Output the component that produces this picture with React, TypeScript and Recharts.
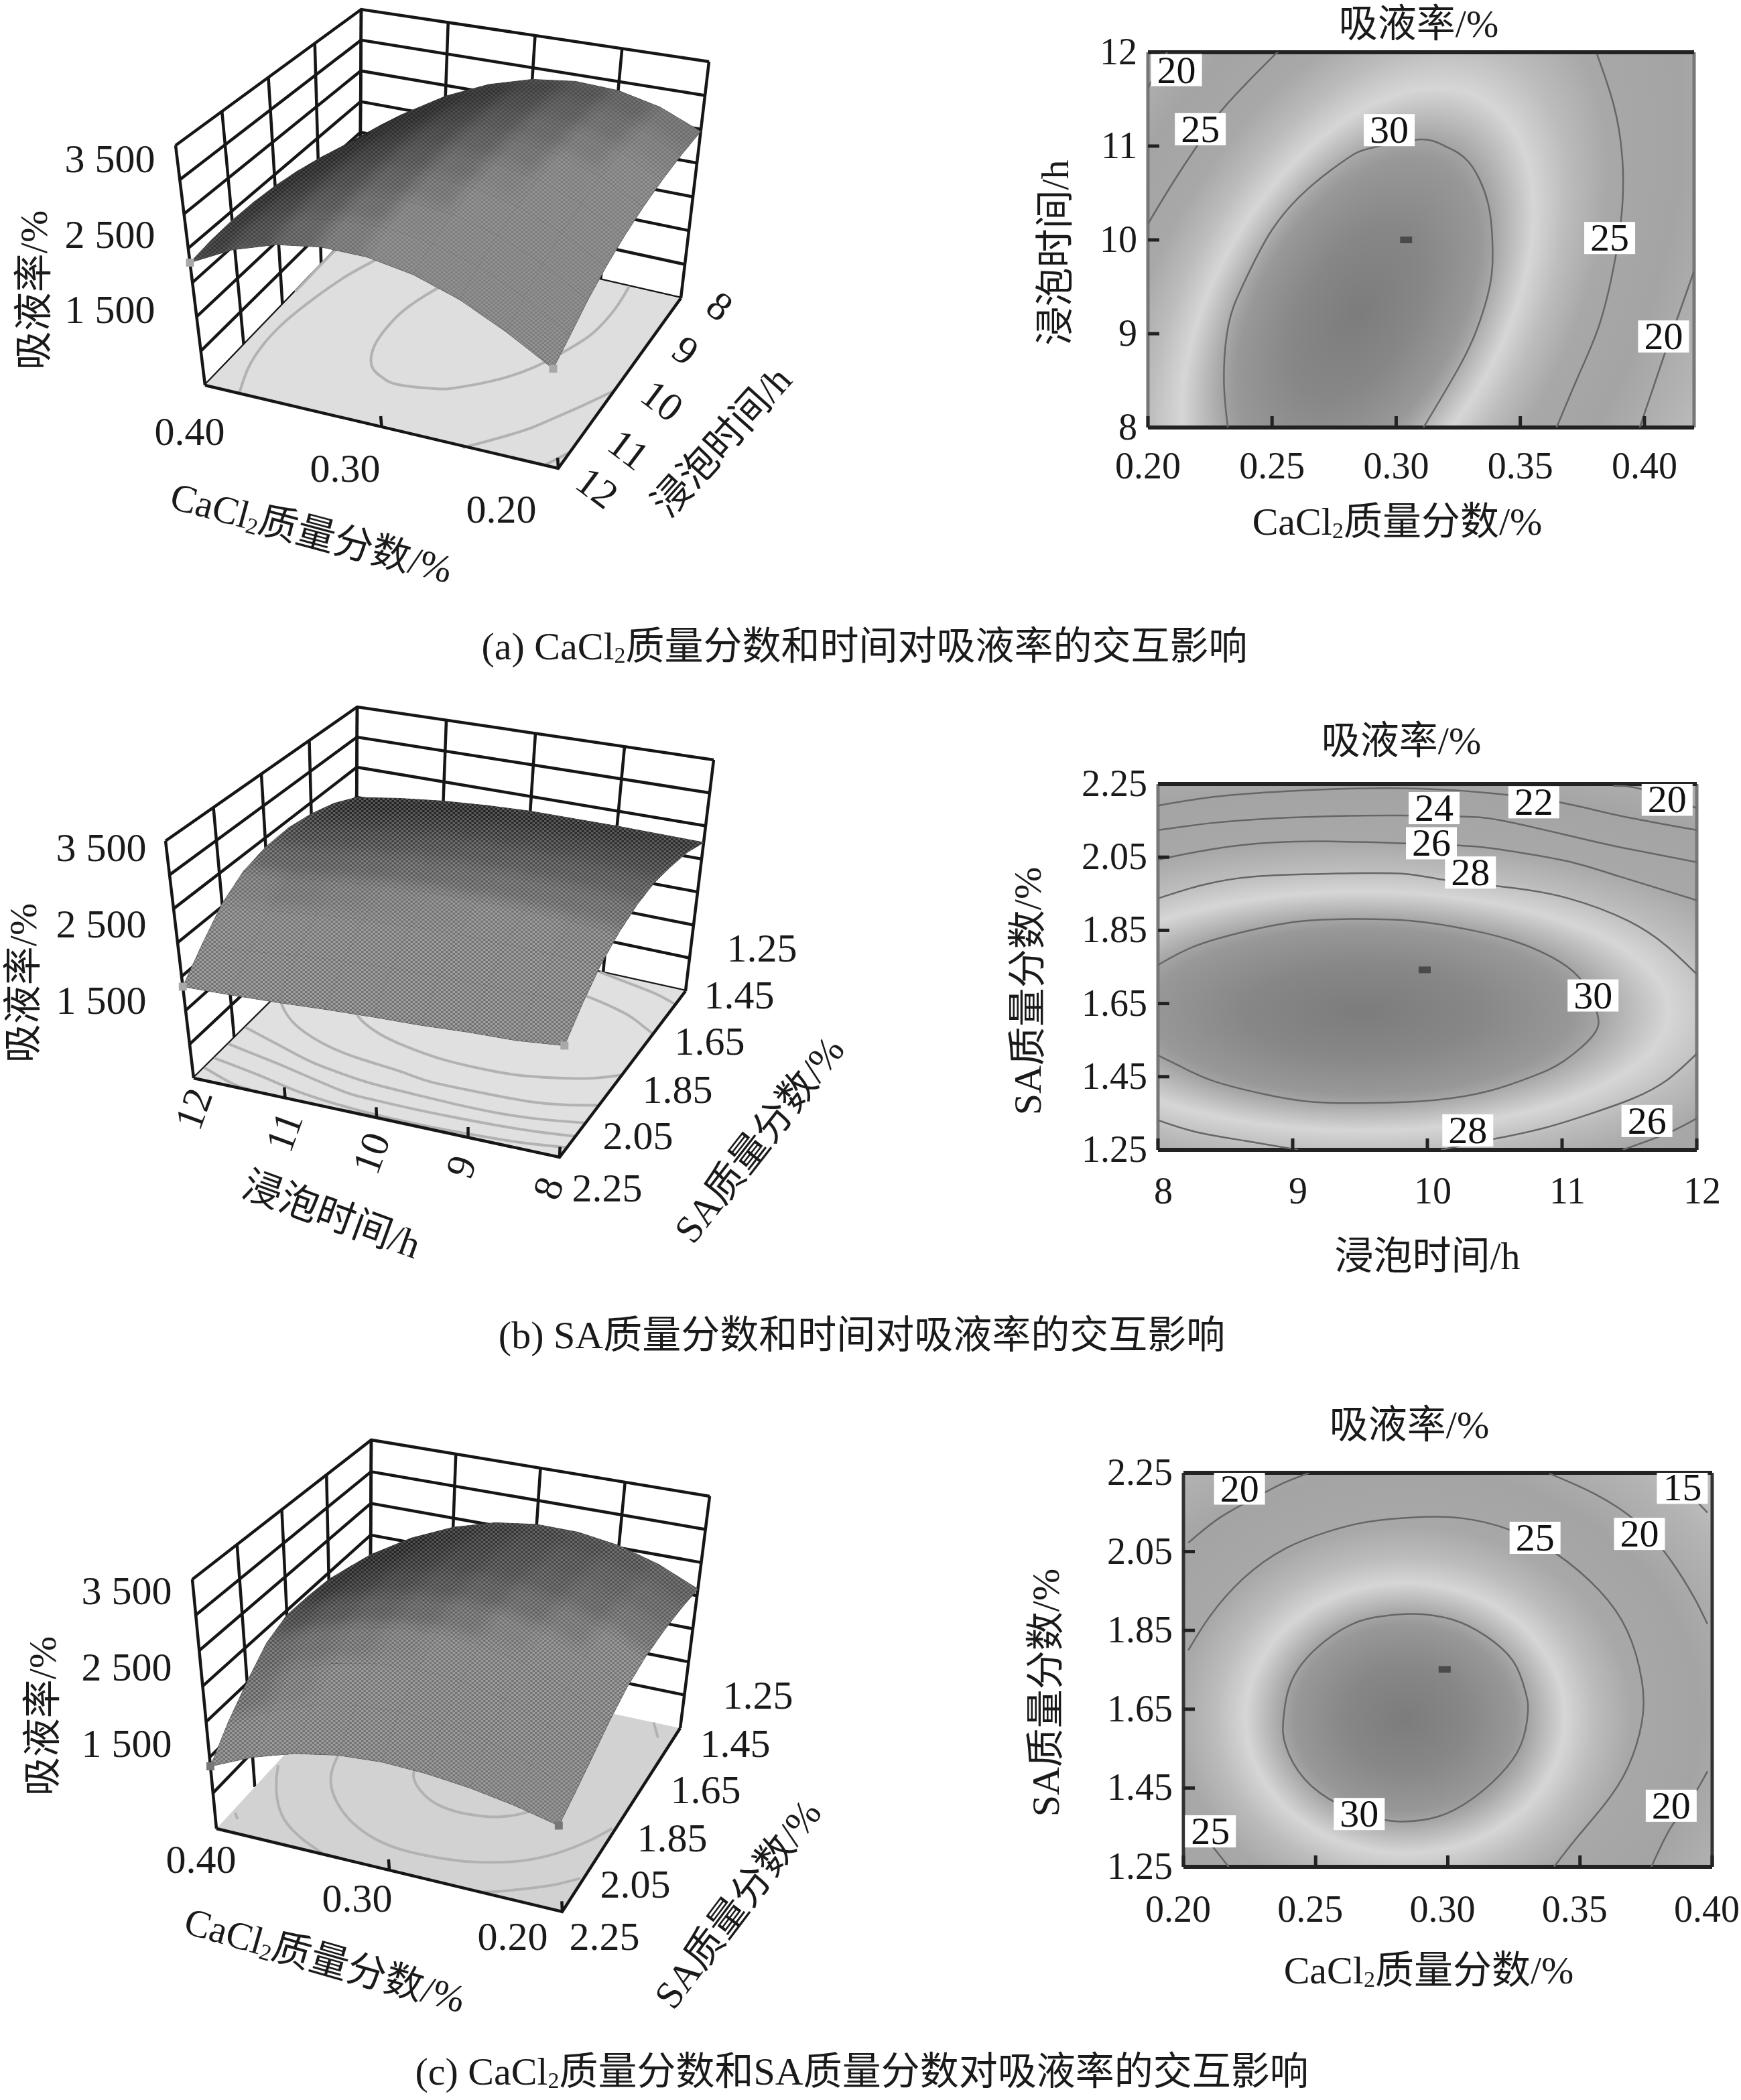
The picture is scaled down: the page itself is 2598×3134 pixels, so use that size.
import { ScatterChart, Scatter, XAxis, YAxis, ReferenceArea, ReferenceLine } from "recharts";

const FONT = "'Liberation Serif','Noto Sans CJK SC',serif";

// shared axis ticks
const CACL_TICKS = [0.2, 0.25, 0.3, 0.35, 0.4];
const TIME_TICKS = [8, 9, 10, 11, 12];
const SA_TICKS = [1.25, 1.45, 1.65, 1.85, 2.05, 2.25];
const Z_LEVELS = [500, 1000, 1500, 2000, 2500, 3000, 3500, 4000];
const GRID_FRACS = [0, 0.25, 0.5, 0.75, 1];

// surface grids
const GRID_CACL = [0.2, 0.225, 0.25, 0.275, 0.3, 0.325, 0.35, 0.375, 0.4];
const GRID_TIME = [8, 8.5, 9, 9.5, 10, 10.5, 11, 11.5, 12];
const GRID_SA = [1.25, 1.375, 1.5, 1.625, 1.75, 1.875, 2, 2.125, 2.25];

// panel a: rows = time, cols = CaCl2
const A_Z = [
  [2967, 3222, 3365, 3398, 3320, 3130, 2830, 2420, 1898],
  [2939, 3217, 3382, 3438, 3382, 3214, 2937, 2549, 2050],
  [2882, 3182, 3370, 3448, 3415, 3270, 3015, 2650, 2173],
  [2795, 3117, 3328, 3428, 3418, 3296, 3063, 2721, 2266],
  [2679, 3024, 3257, 3380, 3392, 3292, 3082, 2762, 2330],
  [2533, 2900, 3156, 3301, 3336, 3259, 3071, 2774, 2364],
  [2358, 2748, 3026, 3194, 3251, 3196, 3031, 2756, 2369],
  [2153, 2565, 2866, 3056, 3136, 3104, 2961, 2709, 2344],
  [1970, 2354, 2677, 2890, 2992, 2982, 2862, 2632, 2290],
];
// panel b: rows = time, cols = SA
const B_Z = [
  [2750, 2920, 3020, 3085, 3060, 2960, 2790, 2520, 2200],
  [2760, 2950, 3070, 3130, 3105, 3000, 2800, 2500, 2120],
  [2770, 2970, 3100, 3160, 3135, 3025, 2815, 2490, 2090],
  [2770, 2980, 3110, 3170, 3140, 3030, 2815, 2480, 2040],
  [2770, 2970, 3100, 3155, 3125, 3010, 2790, 2450, 2010],
  [2740, 2930, 3060, 3115, 3085, 2965, 2745, 2405, 1970],
  [2690, 2870, 2995, 3050, 3015, 2895, 2675, 2340, 1920],
  [2610, 2790, 2905, 2960, 2925, 2800, 2580, 2250, 1880],
  [2500, 2700, 2820, 2880, 2860, 2760, 2540, 2200, 1850],
];
// panel c: rows = SA, cols = CaCl2
const C_Z = [
  [2600, 2858, 3033, 3125, 3132, 3044, 2857, 2573, 2190],
  [2640, 2908, 3089, 3184, 3193, 3109, 2932, 2663, 2300],
  [2640, 2922, 3113, 3214, 3223, 3146, 2983, 2734, 2400],
  [2600, 2906, 3114, 3222, 3233, 3158, 2999, 2756, 2430],
  [2500, 2830, 3054, 3171, 3184, 3114, 2965, 2739, 2435],
  [2330, 2679, 2916, 3040, 3054, 2983, 2834, 2606, 2300],
  [2130, 2465, 2692, 2811, 2823, 2748, 2589, 2346, 2020],
  [1950, 2218, 2399, 2494, 2503, 2430, 2275, 2038, 1720],
  [1800, 1934, 2025, 2072, 2074, 2009, 1870, 1659, 1375],
];

// contour lines, [x, y] in axis units
const A_C30 = [[0.2322, 8], [0.2306, 8.52], [0.2325, 9.1], [0.2383, 9.52], [0.2498, 10.1], [0.2651, 10.56], [0.2804, 10.87], [0.29, 10.98], [0.3091, 11.07], [0.3196, 11], [0.3292, 10.83], [0.3369, 10.4], [0.3388, 9.94], [0.3378, 9.52], [0.3321, 9.02], [0.3244, 8.6], [0.311, 8]];
const A_C25L = [[0.2, 10.17], [0.2115, 10.67], [0.223, 11.13], [0.2316, 11.44], [0.2498, 11.94], [0.2526, 12]];
const A_C25R = [[0.3809, 11.98], [0.3876, 11.44], [0.391, 10.9], [0.391, 10.33], [0.3876, 9.71], [0.3819, 9.1], [0.3742, 8.6], [0.3646, 8]];
const A_C20L = [[0.2, 11.62], [0.2077, 12]];
const A_C20R = [[0.42, 9.67], [0.4144, 9.25], [0.4077, 8.75], [0.3981, 8]];
const A_LINES = [A_C30, A_C25L, A_C25R, A_C20L, A_C20R];
const A_LABELS = [["20", 0.2115, 11.81], ["25", 0.2211, 11.18], ["30", 0.2972, 11.17], ["25", 0.386, 10.02], ["20", 0.4077, 8.97]];
const A_PEAK = [[0.304, 10]];

const B_C30 = [[8, 1.755], [8.27, 1.806], [8.64, 1.846], [9.04, 1.874], [9.44, 1.881], [9.88, 1.876], [10.32, 1.851], [10.68, 1.816], [10.98, 1.765], [11.16, 1.705], [11.26, 1.624], [11.23, 1.563], [11.01, 1.492], [10.79, 1.452], [10.47, 1.412], [10.06, 1.386], [9.59, 1.378], [9.15, 1.381], [8.79, 1.402], [8.42, 1.437], [8.2, 1.472], [8, 1.508]];
const B_C28U = [[8, 1.937], [8.31, 1.972], [8.71, 1.997], [9.3, 2.005], [9.81, 2.005], [10.14, 1.987], [10.61, 1.967], [11.05, 1.937], [11.49, 1.876], [11.78, 1.806], [12, 1.73]];
const B_C28L = [[8, 1.331], [8.27, 1.3], [8.64, 1.275], [9.04, 1.25]];
const B_C28R = [[10.1, 1.25], [10.5, 1.28], [10.87, 1.31], [11.23, 1.351], [11.53, 1.391], [11.78, 1.441], [12, 1.513]];
const B_C26U = [[8, 2.043], [8.42, 2.073], [8.86, 2.09], [9.3, 2.093], [9.81, 2.088], [10.32, 2.08], [10.68, 2.063], [11.05, 2.038], [11.42, 1.998], [12, 1.932]];
const B_C26R = [[11.45, 1.25], [11.78, 1.295], [12, 1.336]];
const B_C24 = [[8, 2.124], [8.42, 2.144], [8.86, 2.156], [9.3, 2.162], [9.81, 2.164], [10.25, 2.161], [10.54, 2.151], [11.05, 2.109], [11.42, 2.078], [12, 2.036]];
const B_C22 = [[8, 2.191], [8.42, 2.215], [8.86, 2.228], [9.41, 2.237], [9.95, 2.237], [10.47, 2.225], [10.98, 2.2], [11.42, 2.164], [12, 2.124]];
const B_C20 = [[11.38, 2.245], [11.6, 2.235], [12, 2.184]];
const B_LINES = [B_C30, B_C28U, B_C28L, B_C28R, B_C26U, B_C26R, B_C24, B_C22, B_C20];
const B_LABELS = [["24", 10.05, 2.184], ["22", 10.79, 2.2], ["20", 11.78, 2.207], ["26", 10.03, 2.088], ["28", 10.32, 2.008], ["30", 11.23, 1.672], ["28", 10.3, 1.303], ["26", 11.63, 1.329]];
const B_PEAK = [[9.98, 1.742]];

const C_C30 = [[0.2377, 1.617], [0.2404, 1.713], [0.2494, 1.799], [0.2638, 1.866], [0.2764, 1.887], [0.2872, 1.892], [0.3015, 1.878], [0.3141, 1.837], [0.3249, 1.77], [0.3294, 1.693], [0.3303, 1.645], [0.3276, 1.559], [0.3195, 1.482], [0.3087, 1.42], [0.2961, 1.377], [0.2818, 1.365], [0.271, 1.377], [0.2584, 1.41], [0.2458, 1.473], [0.2386, 1.559], [0.2377, 1.617]];
const C_C25 = [[0.2018, 1.799], [0.2099, 1.885], [0.2225, 1.981], [0.2386, 2.058], [0.2548, 2.101], [0.2692, 2.125], [0.2872, 2.137], [0.3051, 2.135], [0.3231, 2.106], [0.3411, 2.044], [0.3572, 1.952], [0.368, 1.847], [0.3734, 1.722], [0.3734, 1.617], [0.368, 1.501], [0.359, 1.406], [0.3482, 1.319], [0.3402, 1.25]];
const C_C25B = [[0.209, 1.319], [0.2171, 1.25]];
const C_C20A = [[0.2018, 2.072], [0.2135, 2.135], [0.2261, 2.183], [0.2368, 2.221], [0.2476, 2.25]];
const C_C20B = [[0.3384, 2.248], [0.3554, 2.197], [0.3716, 2.125], [0.3842, 2.029], [0.3932, 1.933], [0.3982, 1.866]];
const C_C20C = [[0.3982, 1.492], [0.3914, 1.415], [0.3842, 1.348], [0.377, 1.25]];
const C_C15 = [[0.3941, 2.178], [0.3982, 2.149]];
const C_LINES = [C_C30, C_C25, C_C25B, C_C20A, C_C20B, C_C20C, C_C15];
const C_LABELS = [["20", 0.2212, 2.21], ["15", 0.3887, 2.212], ["25", 0.333, 2.085], ["20", 0.3725, 2.095], ["30", 0.2665, 1.384], ["25", 0.2102, 1.34], ["20", 0.3845, 1.405]];
const C_PEAK = [[0.2988, 1.751]];

type Pt = { x: number; y: number };
const toPts = (a: number[][]): Pt[] => a.map(([x, y]) => ({ x, y }));

// ---------- 3D surface ----------
type Cage = Record<"l" | "f" | "r" | "b" | "lt" | "ft" | "rt" | "bt", number[]>;

function project(c: Cage, u: number, v: number, w: number): Pt {
  const bil = (a: number[], b: number[], d: number[], e: number[], i: number) =>
    (1 - v) * ((1 - u) * a[i] + u * b[i]) + v * ((1 - u) * e[i] + u * d[i]);
  const lo = [bil(c.l, c.f, c.r, c.b, 0), bil(c.l, c.f, c.r, c.b, 1)];
  const hi = [bil(c.lt, c.ft, c.rt, c.bt, 0), bil(c.lt, c.ft, c.rt, c.bt, 1)];
  return { x: lo[0] + (hi[0] - lo[0]) * w, y: lo[1] + (hi[1] - lo[1]) * w };
}

const zToW = (z: number) => (z - Z_LEVELS[0]) / (Z_LEVELS[Z_LEVELS.length - 1] - Z_LEVELS[0]);
const NoDot = () => <g />;

function quadPath(q: Pt[], ox: number, oy: number) {
  return "M" + q.map((p) => `${p.x + ox},${p.y + oy}`).join("L") + "Z";
}

function buildCells(cage: Cage, rows: number[], cols: number[], z: number[][], uv: (r: number, c: number) => number[]) {
  const P = (i: number, j: number) => {
    const [u, v] = uv(rows[i], cols[j]);
    return project(cage, u, v, zToW(z[i][j]));
  };
  const cells: { q: Pt[]; depth: number; area: number }[] = [];
  for (let i = 0; i < rows.length - 1; i++) {
    for (let j = 0; j < cols.length - 1; j++) {
      const q = [P(i, j), P(i, j + 1), P(i + 1, j + 1), P(i + 1, j)];
      const [u, v] = uv((rows[i] + rows[i + 1]) / 2, (cols[j] + cols[j + 1]) / 2);
      let area = 0;
      q.forEach((p, k) => {
        const n = q[(k + 1) % 4];
        area += p.x * n.y - n.x * p.y;
      });
      cells.push({ q, depth: v - u, area: Math.abs(area) / 2 });
    }
  }
  cells.sort((a, b) => b.depth - a.depth);
  const max = Math.max(...cells.map((c) => c.area));
  return cells.map((c) => {
    const r = Math.min(1, c.area / max / 0.72);
    const g = Math.round(14 + 122 * Math.pow(r, 1.25));
    return { ...c, fill: `rgb(${g},${g},${g})` };
  });
}

function Surface3D(props: {
  id: string; top: number; cage: Cage; rows: number[]; cols: number[]; z: number[][];
  uv: (r: number, c: number) => number[]; lines: number[][][]; contourUv: (x: number, y: number) => number[];
  floorTicks: number[]; floorFill: string; backFloorLine: boolean; tipFill: string; mesh: number;
}) {
  const { id, top, cage, rows, cols, z, uv, lines, contourUv, floorTicks, floorFill, backFloorLine, tipFill, mesh } = props;
  const W = 1300;
  const H = 950;
  const cells = buildCells(cage, rows, cols, z, uv);
  const anchor = cells[0].q[0];
  const floor = [project(cage, 0, 0, 0), project(cage, 1, 0, 0), project(cage, 1, 1, 0), project(cage, 0, 1, 0)];

  const wallLines: Pt[][] = [];
  Z_LEVELS.forEach((lv) => {
    const w = zToW(lv);
    if (w === 0 && !backFloorLine) return;
    wallLines.push([project(cage, 0, 0, w), project(cage, 0, 1, w), project(cage, 1, 1, w)]);
  });
  GRID_FRACS.forEach((f) => {
    wallLines.push([project(cage, 0, f, 0), project(cage, 0, f, 1)]);
    wallLines.push([project(cage, f, 1, 0), project(cage, f, 1, 1)]);
  });
  const frontLines: Pt[][] = [[project(cage, 0, 0, 0), project(cage, 1, 0, 0), project(cage, 1, 1, 0)]];
  floorTicks.forEach((f) => frontLines.push([project(cage, f, 0, 0), project(cage, f, 0, 0.045)]));
  frontLines.push([project(cage, 1, 0, 0), project(cage, 1, 0, 0.045)]);

  const floorCurves = lines.map((l) =>
    l.map(([x, y]) => {
      const [u, v] = contourUv(x, y);
      return project(cage, Math.min(1, Math.max(0, u)), Math.min(1, Math.max(0, v)), 0);
    })
  );
  const last = rows.length - 1;
  const lastC = cols.length - 1;
  // grey design-point marks at the near corners of the surface
  const tips = [[last, lastC], [last, 0], [0, 0], [0, lastC]]
    .map(([i, j]) => {
      const [u, v] = uv(rows[i], cols[j]);
      return { u, v, p: project(cage, u, v, zToW(z[i][j])) };
    })
    .filter((t) => t.v < 0.5)
    .map((t) => t.p);

  const FloorShape = (p: any) => {
    const ox = p.cx - floor[0].x;
    const oy = p.cy - floor[0].y;
    return <path d={quadPath(floor, ox, oy)} fill={floorFill} />;
  };
  const SurfaceShape = (p: any) => {
    const ox = p.cx - anchor.x;
    const oy = p.cy - anchor.y;
    const all = cells.map((c) => quadPath(c.q, ox, oy)).join(" ");
    return (
      <g>
        <defs>
          <clipPath id={`clip-${id}`}>
            {cells.map((c, i) => <path key={i} d={quadPath(c.q, ox, oy)} />)}
          </clipPath>
          <pattern id={`mesh-${id}`} width={7} height={6} patternUnits="userSpaceOnUse">
            <rect x={0} y={0} width={3.5} height={3} fill="#fff" fillOpacity={mesh} />
            <rect x={3.5} y={3} width={3.5} height={3} fill="#fff" fillOpacity={mesh} />
            <rect x={3.5} y={0} width={3.5} height={3} fill="#000" fillOpacity={mesh * 0.8} />
            <rect x={0} y={3} width={3.5} height={3} fill="#000" fillOpacity={mesh * 0.8} />
          </pattern>
        </defs>
        <path d={all} fill="#777" stroke="#444" strokeWidth={1} />
        <g clipPath={`url(#clip-${id})`} style={{ filter: "blur(9px)" }}>
          {cells.map((c, i) => (
            <path key={i} d={quadPath(c.q, ox, oy)} fill={c.fill} stroke={c.fill} strokeWidth={16} strokeLinejoin="round" />
          ))}
        </g>
        <path d={all} fill={`url(#mesh-${id})`} />
      </g>
    );
  };
  const TipShape = (p: any) => <rect x={p.cx - 6} y={p.cy - 6} width={12} height={12} fill={tipFill} />;

  return (
    <div style={{ position: "absolute", left: 0, top }}>
      <ScatterChart width={W} height={H} margin={{ top: 0, right: 0, bottom: 0, left: 0 }}>
        <XAxis hide type="number" dataKey="x" domain={[0, W]} />
        <YAxis hide reversed type="number" dataKey="y" domain={[top, top + H]} />
        {wallLines.map((l, i) => (
          <Scatter key={`w${i}`} data={l} shape={NoDot} line={{ stroke: "#161616", strokeWidth: 4.5 }} isAnimationActive={false} />
        ))}
        <Scatter data={[floor[0]]} shape={FloorShape} isAnimationActive={false} />
        {floorCurves.map((l, i) => (
          <Scatter key={`f${i}`} data={l} shape={NoDot} lineJointType="natural" line={{ stroke: "#b2b2b2", strokeWidth: 4 }} isAnimationActive={false} />
        ))}
        {frontLines.map((l, i) => (
          <Scatter key={`e${i}`} data={l} shape={NoDot} line={{ stroke: "#161616", strokeWidth: 4.5 }} isAnimationActive={false} />
        ))}
        <Scatter data={[anchor]} shape={SurfaceShape} isAnimationActive={false} />
        <Scatter data={tips} shape={TipShape} isAnimationActive={false} />
      </ScatterChart>
    </div>
  );
}

// ---------- 2D contour ----------
const RAMP: [number, string][] = [
  [0, "#7c7c7c"], [0.5, "#878787"], [0.9, "#989898"], [1, "#a4a4a4"], [1.3, "#d6d6d6"],
  [1.55, "#bcbcbc"], [1.85, "#a8a8a8"], [2.4, "#a4a4a4"], [3, "#b4b4b4"], [3.6, "#cccccc"],
];

function Contour(props: {
  id: string; left: number; top: number; width: number; height: number;
  xDomain: number[]; yDomain: number[]; xTicks: number[]; yTicks: number[];
  xDigits: number; yDigits: number; lines: number[][][]; labels: (string | number)[][]; peak: number[][];
  glow: number[]; tickDx: number; tickDy: number; sideStroke: string;
}) {
  const { id, left, top, width, height, xDomain, yDomain, xTicks, yTicks, xDigits, yDigits, lines, labels, peak, glow, tickDx, tickDy, sideStroke } = props;
  const m = 130;
  const [cx, cy, ax, bx, by] = glow;
  const XTick = (p: any) => (
    <g>
      <line x1={p.x} x2={p.x} y1={p.y} y2={p.y - 17} stroke="#222" strokeWidth={5} />
      <text x={p.x + tickDx} y={p.y + tickDy} textAnchor="middle" fontSize={56} fontFamily={FONT} fill="#1a1a1a">
        {Number(p.payload.value).toFixed(xDigits)}
      </text>
    </g>
  );
  const YTick = (p: any) => (
    <g>
      <line x1={p.x} x2={p.x + 17} y1={p.y} y2={p.y} stroke="#222" strokeWidth={5} />
      <text x={p.x - 16} y={p.y + 18} textAnchor="end" fontSize={56} fontFamily={FONT} fill="#1a1a1a">
        {Number(p.payload.value).toFixed(yDigits)}
      </text>
    </g>
  );
  const LabelBox = (p: any) => (
    <g>
      <rect x={p.cx - 38} y={p.cy - 24} width={76} height={48} fill="#fff" />
      <text x={p.cx} y={p.cy + 19} textAnchor="middle" fontSize={58} fontFamily={FONT} fill="#111">{p.payload.label}</text>
    </g>
  );
  const PeakMark = (p: any) => <rect x={p.cx - 9} y={p.cy - 5} width={18} height={10} fill="#4a4a4a" />;
  const labelData = labels.map(([label, x, y]) => ({ label, x, y }));
  return (
    <div style={{ position: "absolute", left: left - m, top: top - m }}>
      <ScatterChart width={width + 2 * m} height={height + 2 * m} margin={{ top: m, right: m, bottom: m - 1, left: m - 1 }}>
        <defs>
          <radialGradient
            id={`ramp-${id}`} gradientUnits="userSpaceOnUse" cx={0} cy={0} r={3.6}
            gradientTransform={`matrix(${ax} 0 ${bx} ${by} ${cx - left + m} ${cy - top + m})`}
          >
            {RAMP.map(([r, c]) => <stop key={r} offset={r / 3.6} stopColor={c} />)}
          </radialGradient>
        </defs>
        <ReferenceArea x1={xDomain[0]} x2={xDomain[1]} y1={yDomain[0]} y2={yDomain[1]} fill={`url(#ramp-${id})`} fillOpacity={1} stroke="none" />
        {lines.map((l, i) => (
          <Scatter key={i} data={toPts(l)} shape={NoDot} lineJointType="natural" line={{ stroke: "#666", strokeWidth: 2.5 }} isAnimationActive={false} />
        ))}
        <Scatter data={toPts(peak)} shape={PeakMark} isAnimationActive={false} />
        <ReferenceLine x={xDomain[0]} stroke={sideStroke} strokeWidth={5} />
        <ReferenceLine x={xDomain[1]} stroke={sideStroke} strokeWidth={5} />
        <ReferenceLine y={yDomain[0]} stroke="#222" strokeWidth={6} />
        <ReferenceLine y={yDomain[1]} stroke="#222" strokeWidth={6} />
        <Scatter data={labelData} shape={LabelBox} isAnimationActive={false} />
        <XAxis type="number" dataKey="x" domain={xDomain} ticks={xTicks} interval={0} height={1} allowDataOverflow axisLine={false} tickLine={false} tickSize={0} tickMargin={0} tick={XTick} />
        <YAxis type="number" dataKey="y" domain={yDomain} ticks={yTicks} interval={0} width={1} allowDataOverflow axisLine={false} tickLine={false} tickSize={0} tickMargin={0} tick={YTick} />
      </ScatterChart>
    </div>
  );
}

// ---------- free text ----------
const caclText = (before: string, after: string) => (
  <>
    {before}CaCl
    <tspan dy={13} fontSize={34}>2</tspan>
    <tspan dy={-13}>{after}</tspan>
  </>
);
const CACL_LABEL = caclText("", "质量分数/%");

function T({ x, y, r = 0, size = 58, children }: { x: number; y: number; r?: number; size?: number; children: any }) {
  return (
    <text transform={`translate(${x} ${y}) rotate(${r})`} textAnchor="middle" dominantBaseline="central" fontSize={size} fontFamily={FONT} fill="#1a1a1a">
      {children}
    </text>
  );
}

const Z_TICK_TEXT = ["3 500", "2 500", "1 500"];
const A_Z_POS = [[164, 237], [164, 350], [164, 462]];
const B_Z_POS = [[151, 1265], [151, 1379], [151, 1493]];
const C_Z_POS = [[189, 2374], [189, 2488], [189, 2602]];
const CACL_3D_TEXT = ["0.40", "0.30", "0.20"];
const A_CACL_POS = [[283, 644], [515, 699], [748, 760]];
const C_CACL_POS = [[300, 2775], [533, 2833], [765, 2890]];
const A_TIME_TEXT = ["8", "9", "10", "11", "12"];
const A_TIME_POS = [[1074, 457], [1023, 523], [988, 598], [938, 671], [891, 728]];
const B_TIME_TEXT = ["12", "11", "10", "9", "8"];
const B_TIME_POS = [[289, 1655], [424, 1689], [554, 1721], [688, 1741], [818, 1773]];
const SA_3D_TEXT = ["1.25", "1.45", "1.65", "1.85", "2.05", "2.25"];
const B_SA_POS = [[1137, 1415], [1103, 1485], [1059, 1554], [1011, 1626], [952, 1695], [906, 1773]];
const C_SA_POS = [[1131, 2530], [1097, 2602], [1053, 2671], [1003, 2743], [948, 2812], [902, 2890]];

function TextLayer() {
  const row = (txt: string[], pos: number[][], r = 0) =>
    txt.map((t, i) => <T key={t + pos[i][1]} x={pos[i][0]} y={pos[i][1]} r={r} size={60}>{t}</T>);
  return (
    <svg width={2598} height={3134} style={{ position: "absolute", left: 0, top: 0 }}>
      {/* panel a */}
      {row(Z_TICK_TEXT, A_Z_POS)}
      {row(CACL_3D_TEXT, A_CACL_POS)}
      {row(A_TIME_TEXT, A_TIME_POS, 37)}
      <T x={50} y={433} r={-90}>吸液率/%</T>
      <T x={465} y={795} r={15}>{CACL_LABEL}</T>
      <T x={1077} y={659} r={-48}>浸泡时间/h</T>
      <T x={2117} y={35}>吸液率/%</T>
      <T x={1574} y={377} r={-90}>浸泡时间/h</T>
      <T x={2085} y={778}>{CACL_LABEL}</T>
      <T x={1290} y={964}>{caclText("(a) ", "质量分数和时间对吸液率的交互影响")}</T>

      {/* panel b */}
      {row(Z_TICK_TEXT, B_Z_POS)}
      {row(B_TIME_TEXT, B_TIME_POS, -70)}
      {row(SA_3D_TEXT, B_SA_POS)}
      <T x={34} y={1467} r={-90}>吸液率/%</T>
      <T x={495} y={1813} r={20}>浸泡时间/h</T>
      <T x={1133} y={1701} r={-52}>SA质量分数/%</T>
      <T x={2091} y={1105}>吸液率/%</T>
      <T x={1533} y={1479} r={-90}>SA质量分数/%</T>
      <T x={2130} y={1874}>浸泡时间/h</T>
      <T x={1286} y={1992}>(b) SA质量分数和时间对吸液率的交互影响</T>

      {/* panel c */}
      {row(Z_TICK_TEXT, C_Z_POS)}
      {row(CACL_3D_TEXT, C_CACL_POS)}
      {row(SA_3D_TEXT, C_SA_POS)}
      <T x={63} y={2561} r={-90}>吸液率/%</T>
      <T x={485} y={2925} r={16}>{CACL_LABEL}</T>
      <T x={1101} y={2842} r={-53}>SA质量分数/%</T>
      <T x={2103} y={2126}>吸液率/%</T>
      <T x={1560} y={2526} r={-90}>SA质量分数/%</T>
      <T x={2132} y={2940}>{CACL_LABEL}</T>
      <T x={1286} y={3091}>{caclText("(c) ", "质量分数和SA质量分数对吸液率的交互影响")}</T>
    </svg>
  );
}

// cage corners in page pixels
const A_CAGE: Cage = { l: [306, 575], f: [833, 699], r: [1016, 445], b: [537, 335], lt: [262, 217], ft: [815, 345], rt: [1058, 92], bt: [539, 14] };
const B_CAGE: Cage = { l: [289, 1609], f: [835, 1727], r: [1023, 1479], b: [531, 1370], lt: [247, 1255], ft: [850, 1384], rt: [1065, 1134], bt: [533, 1055] };
const C_CAGE: Cage = { l: [323, 2729], f: [839, 2853], r: [1015, 2579], b: [552, 2480], lt: [287, 2357], ft: [825, 2507], rt: [1059, 2233], bt: [554, 2149] };

const caclU = (x: number) => (0.4 - x) / 0.2;
const timeV = (t: number) => (12 - t) / 4;
const timeU = (t: number) => (12 - t) / 4;
const saV = (s: number) => 2.25 - s;

export default function App() {
  return (
    <div style={{ position: "absolute", left: 0, top: 0, width: 2598, height: 3134, background: "#fff", overflow: "hidden", filter: "blur(0.6px)" }}>
      <Surface3D id="a" top={0} cage={A_CAGE} rows={GRID_TIME} cols={GRID_CACL} z={A_Z}
        uv={(t, x) => [caclU(x), timeV(t)]} lines={A_LINES} contourUv={(x, t) => [caclU(x), timeV(t)]}
        floorTicks={[0.5]} floorFill="#dedede" backFloorLine tipFill="#a8a8a8" mesh={0.1} />
      <Surface3D id="b" top={1020} cage={B_CAGE} rows={GRID_TIME} cols={GRID_SA} z={B_Z}
        uv={(t, s) => [timeU(t), saV(s)]} lines={B_LINES} contourUv={(t, s) => [timeU(t), saV(s)]}
        floorTicks={[0.25, 0.5, 0.75]} floorFill="#e0e0e0" backFloorLine tipFill="#a8a8a8" mesh={0.2} />
      <Surface3D id="c" top={2120} cage={C_CAGE} rows={GRID_SA} cols={GRID_CACL} z={C_Z}
        uv={(s, x) => [caclU(x), saV(s)]} lines={C_LINES} contourUv={(x, s) => [caclU(x), saV(s)]}
        floorTicks={[0.5]} floorFill="#d2d2d2" backFloorLine={false} tipFill="#777" mesh={0.17} />

      <Contour id="a2" left={1713} top={78} width={815} height={560} xDomain={[0.2, 0.42]} yDomain={[8, 12]}
        xTicks={CACL_TICKS} yTicks={TIME_TICKS} xDigits={2} yDigits={0} lines={A_LINES} labels={A_LABELS} peak={A_PEAK}
        glow={[2026, 466, 180, -91, 257]} tickDx={0} tickDy={76} sideStroke="#777" />
      <Contour id="b2" left={1728} top={1170} width={804} height={546} xDomain={[8, 12]} yDomain={[1.25, 2.25]}
        xTicks={TIME_TICKS} yTicks={SA_TICKS} xDigits={0} yDigits={2} lines={B_LINES} labels={B_LABELS} peak={B_PEAK}
        glow={[2032, 1509, 352, 0, 137]} tickDx={8} tickDy={80} sideStroke="#777" />
      <Contour id="c2" left={1766} top={2198} width={789} height={588} xDomain={[0.2, 0.4]} yDomain={[1.25, 2.25]}
        xTicks={CACL_TICKS} yTicks={SA_TICKS} xDigits={2} yDigits={2} lines={C_LINES} labels={C_LABELS} peak={C_PEAK}
        glow={[2097, 2564, 183, 0, 155]} tickDx={-8} tickDy={82} sideStroke="#333" />

      <TextLayer />
    </div>
  );
}
